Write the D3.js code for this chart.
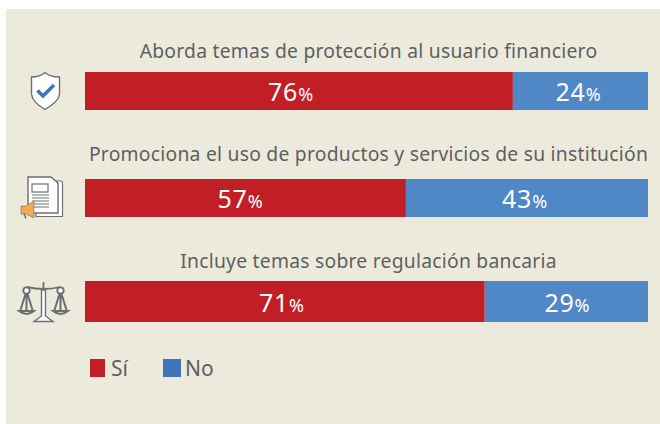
<!DOCTYPE html>
<html>
<head>
<meta charset="utf-8">
<script src="https://cdn.jsdelivr.net/npm/d3@7"></script>
<style>
  html, body { margin: 0; padding: 0; background: #fff; }
  svg { display: block; }
  text { font-family: "Noto Sans", sans-serif; }
</style>
</head>
<body>
<script>
const titles = [
  "Aborda temas de protección al usuario financiero",
  "Promociona el uso de productos y servicios de su institución",
  "Incluye temas sobre regulación bancaria"
];
const siValues = [76, 57, 71];
const noValues = [24, 43, 29];
const legendLabels = ["Sí", "No"];

const w = 660, h = 424;
const red = "#c11f25", blue = "#4f87c7", blueLegend = "#4274ba", bg = "#eceadd", grey = "#5f5f5f", iconGrey = "#6d6e70";

// rows are not evenly spaced in the original, labels are not centred either
const rows = [
  { top: 72, height: 38, titleY: 58, valueY: 101, siShift: -8, noShift: -2 },
  { top: 179, height: 38, titleY: 161, valueY: 208, siShift: -5, noShift: -2 },
  { top: 281, height: 41, titleY: 268, valueY: 312, siShift: -3, noShift: 1 }
];

const svg = d3.select("body").append("svg")
  .attr("width", w)
  .attr("height", h);

svg.append("rect")
  .attr("x", 6).attr("y", 9)
  .attr("width", w - 6).attr("height", h - 9)
  .attr("fill", bg);

const x = d3.scaleLinear().domain([0, 100]).range([85, 648]);

const row = svg.selectAll("g.row")
  .data(titles)
  .join("g")
  .attr("class", "row");

row.append("rect")
  .attr("x", x(0))
  .attr("y", (d, i) => rows[i].top)
  .attr("width", (d, i) => x(siValues[i]) - x(0))
  .attr("height", (d, i) => rows[i].height)
  .attr("fill", red);

row.append("rect")
  .attr("x", (d, i) => x(siValues[i]))
  .attr("y", (d, i) => rows[i].top)
  .attr("width", (d, i) => x(siValues[i] + noValues[i]) - x(siValues[i]))
  .attr("height", (d, i) => rows[i].height)
  .attr("fill", blue);

row.append("text")
  .attr("x", (x(0) + x(100)) / 2 + 2)
  .attr("y", (d, i) => rows[i].titleY)
  .attr("text-anchor", "middle")
  .attr("font-size", 19.3)
  .attr("letter-spacing", 0.25)
  .attr("fill", grey)
  .text(d => d);

const addValue = (sel, cx, values) => {
  const t = sel.append("text")
    .attr("x", (d, i) => cx(i))
    .attr("y", (d, i) => rows[i].valueY)
    .attr("text-anchor", "middle")
    .attr("fill", "#fff")
    .attr("letter-spacing", 0.8)
    .attr("font-size", 25);
  t.append("tspan").text((d, i) => values[i]);
  t.append("tspan").attr("font-size", 18).text("%");
};

addValue(row, i => (x(0) + x(siValues[i])) / 2 + rows[i].siShift, siValues);
addValue(row, i => (x(siValues[i]) + x(100)) / 2 + rows[i].noShift, noValues);

// legend
const legendX = [90, 163];
const legendTextX = [111, 185];
const legendColors = [red, blueLegend];
const legendG = svg.selectAll("g.legend")
  .data(legendLabels)
  .join("g")
  .attr("class", "legend");

legendG.append("rect")
  .attr("x", (d, i) => legendX[i])
  .attr("y", 359)
  .attr("width", (d, i) => i === 0 ? 15 : 18)
  .attr("height", 18)
  .attr("fill", (d, i) => legendColors[i]);

legendG.append("text")
  .attr("x", (d, i) => legendTextX[i])
  .attr("y", 376)
  .attr("font-size", 21)
  .attr("fill", grey)
  .text(d => d);

// shield icon
const shield = svg.append("g");
shield.append("path")
  .attr("d", "M45 72.5 C41 76 36 77 31.5 77 L31.5 94 C32 101 39 106 45 109.5 C51 106 59 101 59.5 94 L59.5 77 C54 77 49 76 45 72.5 Z")
  .attr("fill", "#fff")
  .attr("stroke", iconGrey)
  .attr("stroke-width", 1.4);
shield.append("path")
  .attr("d", "M37.5 90.5 L43 96 L54 85")
  .attr("fill", "none")
  .attr("stroke", blueLegend)
  .attr("stroke-width", 3.6);

// document + megaphone icon
const doc = svg.append("g");
doc.append("path")
  .attr("d", "M56 181 H61 Q62.5 181 62.5 183 V216.5 H36 V210")
  .attr("fill", "#fff")
  .attr("stroke", iconGrey)
  .attr("stroke-width", 1.2);
doc.append("path")
  .attr("d", "M28 177 H51 L58 183 V213 H28 Z")
  .attr("fill", "#fff")
  .attr("stroke", iconGrey)
  .attr("stroke-width", 1.4);
doc.append("rect")
  .attr("x", 32).attr("y", 184).attr("width", 16).attr("height", 8)
  .attr("fill", "none").attr("stroke", iconGrey).attr("stroke-width", 1.2);
doc.selectAll("line")
  .data([195, 198, 201, 204, 207])
  .join("line")
  .attr("x1", 32).attr("x2", 49)
  .attr("y1", d => d).attr("y2", d => d)
  .attr("stroke", iconGrey)
  .attr("stroke-width", 1);
doc.append("path")
  .attr("d", "M21 206 H26 L34 201 V218 L26 214 H21 Z")
  .attr("fill", "#f2a94f")
  .attr("stroke", iconGrey)
  .attr("stroke-width", 0.6);
doc.append("path")
  .attr("d", "M24 214 L26 218.5")
  .attr("stroke", iconGrey)
  .attr("stroke-width", 1.5);

// scales icon
const scaleIcon = svg.append("g")
  .attr("fill", "none")
  .attr("stroke", iconGrey)
  .attr("stroke-width", 1.8);
scaleIcon.append("path")
  .attr("d", "M41.5 290 H45.5 V316 L53 321.5 H34 L41.5 316 Z")
  .attr("fill", "#fff")
  .attr("stroke-width", 1.4);
scaleIcon.append("path")
  .attr("d", "M43.5 282 V288 M27 287 Q44 291 60 287");
scaleIcon.selectAll("path.pan")
  .data([26.5, 60.5])
  .join("path")
  .attr("class", "pan")
  .attr("d", d => `M${d - 1} 294 L${d - 6} 310 M${d + 1} 294 L${d + 6} 310 M${d} 294 L${d} 310 M${d - 7.5} 311 H${d + 7.5} Q${d} 317 ${d - 7.5} 311 Z`)
  .attr("stroke-width", 2);
scaleIcon.selectAll("circle")
  .data([26.5, 60.5])
  .join("circle")
  .attr("cx", d => d).attr("cy", 290.5).attr("r", 3.2)
  .attr("fill", "#fff");
</script>
</body>
</html>
